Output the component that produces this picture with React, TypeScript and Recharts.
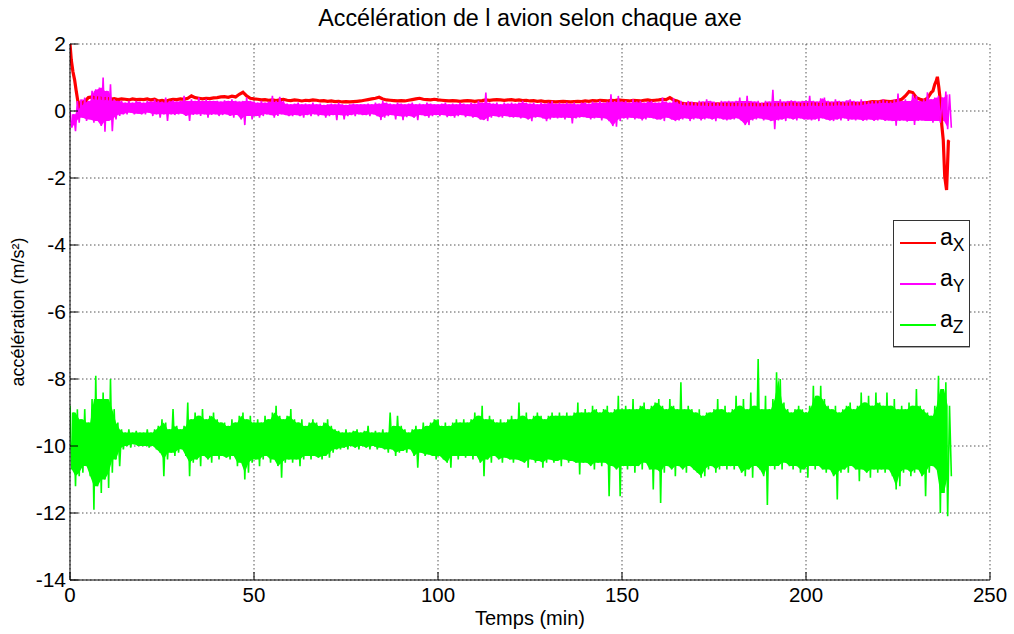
import { ComposedChart, Line, Area, XAxis, YAxis, CartesianGrid } from 'recharts';

const X_TICKS = [0, 50, 100, 150, 200, 250];
const Y_TICKS = [-14, -12, -10, -8, -6, -4, -2, 0, 2];

// a_X : start transient, one value per minute (t = 3..233), landing transient
const AX_HEAD_T = [0, 0.35, 0.8, 1.25, 1.65, 2.0, 2.4];
const AX_HEAD = [2.0, 1.52, 1.17, 0.93, 0.63, 0.38, 0.13];
const AX_BODY = [
  0.2, 0.28, 0.4, 0.42, 0.38, 0.4, 0.36, 0.38, 0.35, 0.37, 0.34, 0.36, 0.35, 0.33, 0.36, 0.34, 0.35,
  0.34, 0.36, 0.33, 0.35, 0.3, 0.32, 0.29, 0.33, 0.35, 0.34, 0.36, 0.35, 0.38, 0.45, 0.4, 0.38, 0.36, 0.38, 0.37, 0.39,
  0.4, 0.42, 0.43, 0.41, 0.44, 0.42, 0.5, 0.56, 0.45, 0.38, 0.36, 0.35, 0.33, 0.34, 0.32, 0.33, 0.31, 0.33, 0.35, 0.32,
  0.31, 0.33, 0.32, 0.3, 0.32, 0.31, 0.33, 0.32, 0.3, 0.31, 0.29, 0.3, 0.28, 0.29, 0.27, 0.28, 0.27, 0.28, 0.29, 0.3,
  0.32, 0.34, 0.36, 0.38, 0.41, 0.36, 0.33, 0.32, 0.31, 0.3, 0.31, 0.3, 0.32, 0.34, 0.36, 0.38, 0.35, 0.34, 0.33, 0.35,
  0.33, 0.32, 0.31, 0.3, 0.31, 0.3, 0.29, 0.3, 0.31, 0.3, 0.29, 0.3, 0.31, 0.33, 0.32, 0.33, 0.34, 0.33, 0.32, 0.33,
  0.34, 0.32, 0.33, 0.31, 0.32, 0.3, 0.31, 0.29, 0.3, 0.28, 0.29, 0.28, 0.27, 0.28, 0.29, 0.28, 0.27, 0.28, 0.29, 0.28,
  0.3, 0.29, 0.31, 0.3, 0.32, 0.31, 0.3, 0.32, 0.31, 0.33, 0.32, 0.31, 0.3, 0.32, 0.31, 0.3, 0.32, 0.33, 0.31, 0.32,
  0.33, 0.35, 0.34, 0.4, 0.33, 0.3, 0.24, 0.22, 0.21, 0.22, 0.21, 0.2, 0.21, 0.2, 0.19, 0.2, 0.21, 0.2, 0.19, 0.2,
  0.19, 0.2, 0.19, 0.18, 0.19, 0.2, 0.19, 0.18, 0.19, 0.2, 0.19, 0.18, 0.19, 0.2, 0.19, 0.2, 0.21, 0.2, 0.19, 0.2,
  0.19, 0.2, 0.21, 0.2, 0.19, 0.2, 0.21, 0.2, 0.21, 0.22, 0.21, 0.2, 0.21, 0.22, 0.21, 0.22, 0.24, 0.26, 0.28, 0.27,
  0.28, 0.3, 0.29, 0.28, 0.3, 0.32, 0.35, 0.45, 0.58, 0.55, 0.4, 0.35, 0.32, 0.38,
];
const AX_TAIL_T = [234, 234.5, 235, 235.4, 235.7, 236.1, 236.5, 236.9, 237.3, 237.7, 238.2, 238.5, 238.7, 238.9];
const AX_TAIL = [0.55, 0.6, 0.8, 0.9, 1.02, 0.7, 0.3, -0.42, -0.87, -1.96, -2.36, -1.5, -0.9, -0.87];

// a_Y : upper / lower extent of the noise band, one pair per minute (t = 0..239)
const AY_HI = [
  0.0, -0.1, 0.3, 0.35, 0.4, 0.3, 0.6, 0.65, 0.7, 1.0, 0.6, 0.8, 0.35, 0.3, 0.3, 0.25, 0.3, 0.25, 0.3, 0.28,
  0.25, 0.3, 0.28, 0.35, 0.3, 0.28, 0.4, 0.3, 0.32, 0.28, 0.3, 0.45, 0.3, 0.35, 0.3, 0.4, 0.3, 0.35, 0.3, 0.3,
  0.3, 0.28, 0.32, 0.3, 0.35, 0.3, 0.28, 0.3, 0.4, 0.3, 0.28, 0.25, 0.3, 0.25, 0.28, 0.45, 0.3, 0.42, 0.3, 0.22,
  0.2, 0.22, 0.25, 0.2, 0.22, 0.2, 0.25, 0.2, 0.22, 0.18, 0.2, 0.22, 0.2, 0.25, 0.2, 0.18, 0.2, 0.22, 0.2, 0.2,
  0.2, 0.22, 0.2, 0.25, 0.22, 0.3, 0.25, 0.22, 0.2, 0.25, 0.22, 0.2, 0.22, 0.25, 0.2, 0.22, 0.2, 0.25, 0.22, 0.2,
  0.2, 0.22, 0.25, 0.2, 0.22, 0.2, 0.25, 0.22, 0.2, 0.25, 0.22, 0.3, 0.25, 0.55, 0.25, 0.22, 0.25, 0.2, 0.25, 0.22,
  0.25, 0.22, 0.25, 0.3, 0.25, 0.22, 0.25, 0.2, 0.25, 0.22, 0.25, 0.3, 0.22, 0.25, 0.22, 0.25, 0.22, 0.25, 0.2, 0.25,
  0.25, 0.22, 0.28, 0.25, 0.3, 0.25, 0.28, 0.5, 0.3, 0.45, 0.28, 0.3, 0.25, 0.35, 0.28, 0.3, 0.25, 0.28, 0.3, 0.25,
  0.25, 0.4, 0.28, 0.25, 0.38, 0.28, 0.3, 0.25, 0.3, 0.28, 0.25, 0.3, 0.28, 0.35, 0.3, 0.28, 0.25, 0.3, 0.28, 0.3,
  0.28, 0.3, 0.4, 0.3, 0.45, 0.3, 0.28, 0.3, 0.25, 0.3, 0.28, 0.63, 0.3, 0.35, 0.28, 0.3, 0.32, 0.3, 0.28, 0.3,
  0.3, 0.45, 0.3, 0.28, 0.38, 0.4, 0.3, 0.28, 0.35, 0.3, 0.28, 0.32, 0.35, 0.3, 0.28, 0.35, 0.3, 0.28, 0.3, 0.3,
  0.3, 0.35, 0.3, 0.28, 0.35, 0.52, 0.3, 0.35, 0.3, 0.5, 0.45, 0.3, 0.35, 0.56, 0.35, 0.4, 0.45, 0.4, 0.58, 0.5,
];
const AY_LO = [
  -0.5, -0.6, -0.35, -0.2, -0.3, -0.25, -0.35, -0.3, -0.45, -0.62, -0.3, -0.6, -0.25, -0.15, -0.1, -0.1, -0.05, -0.1, -0.08, -0.1,
  -0.1, -0.05, -0.15, -0.1, -0.2, -0.1, -0.3, -0.1, -0.12, -0.1, -0.08, -0.15, -0.3, -0.12, -0.1, -0.15, -0.1, -0.2, -0.12, -0.1,
  -0.15, -0.12, -0.1, -0.15, -0.2, -0.12, -0.25, -0.42, -0.15, -0.25, -0.15, -0.2, -0.15, -0.1, -0.12, -0.2, -0.15, -0.1, -0.12, -0.15,
  -0.15, -0.12, -0.15, -0.2, -0.12, -0.15, -0.1, -0.15, -0.12, -0.2, -0.15, -0.12, -0.27, -0.12, -0.25, -0.15, -0.12, -0.15, -0.1, -0.12,
  -0.12, -0.15, -0.1, -0.15, -0.27, -0.2, -0.15, -0.12, -0.25, -0.15, -0.27, -0.18, -0.15, -0.2, -0.27, -0.12, -0.15, -0.2, -0.15, -0.12,
  -0.15, -0.12, -0.18, -0.15, -0.2, -0.15, -0.12, -0.18, -0.15, -0.2, -0.18, -0.25, -0.27, -0.3, -0.2, -0.15, -0.18, -0.2, -0.15, -0.18,
  -0.2, -0.18, -0.22, -0.2, -0.25, -0.3, -0.2, -0.18, -0.22, -0.3, -0.25, -0.2, -0.22, -0.2, -0.25, -0.2, -0.37, -0.22, -0.2, -0.18,
  -0.2, -0.25, -0.22, -0.2, -0.28, -0.22, -0.3, -0.45, -0.47, -0.3, -0.22, -0.25, -0.2, -0.25, -0.22, -0.28, -0.25, -0.2, -0.22, -0.25,
  -0.25, -0.3, -0.2, -0.25, -0.3, -0.28, -0.25, -0.22, -0.3, -0.25, -0.22, -0.28, -0.25, -0.22, -0.25, -0.3, -0.22, -0.25, -0.28, -0.25,
  -0.25, -0.22, -0.3, -0.42, -0.42, -0.28, -0.25, -0.22, -0.28, -0.25, -0.3, -0.54, -0.28, -0.25, -0.3, -0.22, -0.25, -0.28, -0.22, -0.25,
  -0.25, -0.28, -0.25, -0.3, -0.22, -0.25, -0.28, -0.3, -0.25, -0.28, -0.22, -0.3, -0.25, -0.28, -0.25, -0.3, -0.28, -0.25, -0.3, -0.28,
  -0.25, -0.3, -0.28, -0.3, -0.44, -0.3, -0.28, -0.32, -0.3, -0.42, -0.3, -0.28, -0.3, -0.3, -0.35, -0.3, -0.35, -0.3, -0.54, -0.5,
];

// a_Z : upper / lower extent of the noise band, one pair per minute (t = 0..239)
const AZ_HI = [
  -8.8, -9.0, -8.9, -9.2, -8.9, -9.3, -8.6, -7.9, -8.6, -8.4, -8.6, -8.0, -8.9, -9.3, -9.5, -9.6, -9.5, -9.6, -9.55, -9.6,
  -9.6, -9.5, -9.6, -9.5, -9.4, -9.2, -9.3, -9.5, -8.9, -9.4, -9.5, -9.4, -8.7, -9.2, -9.0, -9.1, -8.9, -9.2, -9.1, -9.0,
  -9.2, -9.3, -9.3, -9.4, -9.2, -9.3, -9.1, -9.0, -9.2, -9.1, -9.3, -9.2, -9.3, -9.1, -9.2, -9.0, -8.8, -9.1, -9.2, -9.1,
  -8.9, -9.2, -9.3, -9.2, -9.4, -9.3, -9.2, -9.3, -9.4, -9.3, -9.2, -9.4, -9.5, -9.55, -9.6, -9.5, -9.6, -9.55, -9.5, -9.6,
  -9.55, -9.4, -9.6, -9.55, -9.6, -9.5, -9.6, -9.0, -9.4, -9.1, -9.4, -9.5, -9.6, -9.5, -9.4, -9.5, -9.3, -9.4, -9.3, -9.2,
  -9.2, -9.4, -9.3, -9.4, -9.3, -9.2, -9.3, -9.2, -9.3, -9.2, -9.0, -9.1, -8.8, -9.2, -9.1, -9.2, -9.3, -9.2, -9.3, -9.2,
  -9.1, -9.2, -8.7, -9.1, -9.0, -9.2, -9.1, -9.0, -9.1, -9.2, -9.1, -9.0, -9.1, -9.0, -9.1, -9.0, -9.1, -9.0, -8.7, -9.0,
  -8.9, -9.0, -8.8, -8.9, -9.0, -8.9, -8.8, -9.0, -8.9, -8.5, -8.9, -8.8, -8.9, -8.6, -8.9, -8.8, -8.7, -8.9, -8.8, -8.7,
  -8.6, -8.8, -8.9, -8.6, -8.8, -8.9, -8.1, -8.9, -8.8, -8.9, -9.0, -8.9, -9.1, -9.0, -9.0, -8.9, -8.6, -8.9, -8.8, -9.0,
  -8.9, -8.5, -8.8, -8.6, -8.9, -8.4, -8.8, -7.4, -8.9, -8.5, -8.9, -8.6, -7.8, -8.0, -8.7, -8.9, -9.0, -8.9, -8.8, -8.9,
  -9.0, -8.8, -8.2, -8.5, -8.2, -8.6, -8.8, -8.9, -8.8, -9.0, -8.9, -8.8, -8.7, -8.9, -8.8, -8.4, -8.7, -8.5, -8.8, -8.4,
  -8.7, -8.8, -8.4, -8.8, -8.6, -8.9, -8.8, -8.9, -8.7, -8.8, -8.3, -8.8, -8.9, -9.0, -9.1, -8.8, -7.9, -8.3, -8.1, -8.8,
];
const AZ_LO = [
  -10.7, -11.2, -10.9, -10.8, -10.6, -10.9, -11.9, -11.2, -11.4, -11.0, -11.25, -10.8, -10.4, -10.6, -10.1, -10.0, -10.05, -9.95, -10.0, -10.0,
  -10.0, -10.05, -10.0, -10.1, -10.2, -10.9, -10.4, -10.2, -10.3, -10.2, -10.1, -10.3, -10.9, -10.5, -10.4, -10.6, -10.3, -10.4, -10.5, -10.3,
  -10.4, -10.3, -10.35, -10.4, -10.3, -10.6, -10.5, -11.0, -10.8, -10.5, -10.4, -10.6, -10.4, -10.3, -10.5, -10.4, -10.6, -10.95, -10.5, -10.4,
  -10.5, -10.4, -10.6, -10.4, -10.3, -10.4, -10.3, -10.35, -10.4, -10.3, -10.35, -10.2, -10.1, -10.1, -10.05, -10.1, -10.0, -10.05, -10.1, -10.0,
  -10.05, -10.1, -10.0, -10.1, -10.05, -10.1, -10.2, -10.1, -10.3, -10.2, -10.15, -10.2, -10.1, -10.3, -10.65, -10.2, -10.3, -10.25, -10.3, -10.4,
  -10.3, -10.4, -10.5, -10.65, -10.3, -10.4, -10.3, -10.35, -10.3, -10.4, -10.3, -10.5, -10.9, -10.4, -10.5, -10.3, -10.4, -10.5, -10.35, -10.4,
  -10.5, -10.4, -10.45, -10.5, -10.65, -10.4, -10.5, -10.45, -10.65, -10.5, -10.4, -10.5, -10.45, -10.6, -10.4, -10.5, -10.45, -10.5, -10.85, -10.5,
  -10.5, -10.6, -10.7, -10.5, -10.6, -10.5, -11.5, -10.6, -10.7, -11.5, -10.6, -10.7, -10.6, -10.8, -10.6, -10.7, -10.5, -10.7, -11.3, -10.7,
  -11.7, -10.8, -10.6, -10.7, -10.9, -10.6, -10.7, -10.8, -10.6, -10.7, -10.8, -10.95, -10.9, -10.7, -10.6, -10.8, -10.7, -10.6, -10.7, -10.6,
  -10.7, -10.6, -10.8, -10.9, -10.7, -10.95, -10.6, -10.7, -10.9, -11.76, -10.6, -10.7, -10.6, -10.7, -10.5, -10.6, -10.7, -10.6, -10.8, -10.7,
  -10.95, -10.6, -10.7, -10.6, -10.7, -10.8, -10.7, -10.9, -11.6, -10.8, -10.7, -10.8, -10.6, -10.7, -11.05, -10.7, -10.8, -10.95, -10.7, -10.8,
  -10.7, -10.8, -10.7, -10.9, -11.3, -11.2, -10.8, -10.7, -10.9, -10.8, -10.7, -10.9, -11.5, -10.8, -10.6, -10.7, -12.0, -11.4, -12.1, -10.9,
];

const SERIES = [
  { key: 'ax', sub: 'X', color: '#ff0000' },
  { key: 'ay', sub: 'Y', color: '#ff00ff' },
  { key: 'az', sub: 'Z', color: '#00ff00' },
];

const FONT = '"Liberation Sans", Arial, Helvetica, sans-serif';

type Pt = { t: number; v: number };
type Rg = { t: number; r: [number, number] };

// upper and lower extent of each minute, drawn one after the other
function zigzag(hi: number[], lo: number[]): Pt[] {
  const pts: Pt[] = [];
  hi.forEach((h, i) => {
    pts.push({ t: i, v: h });
    pts.push({ t: i + 0.5, v: lo[i] });
  });
  return pts;
}

// solid core of the band: what two neighbouring minutes share, so lone spikes stay thin
function core(hi: number[], lo: number[]): Rg[] {
  const out: Rg[] = [];
  for (let i = 0; i < hi.length - 1; i++) {
    out.push({
      t: i + 0.5,
      r: [Math.max(lo[i], lo[i + 1]), Math.min(hi[i], hi[i + 1])],
    });
  }
  return out;
}

const axData: Pt[] = [
  ...AX_HEAD_T.map((t, i) => ({ t, v: AX_HEAD[i] })),
  ...AX_BODY.map((v, i) => ({ t: i + 3, v })),
  ...AX_TAIL_T.map((t, i) => ({ t, v: AX_TAIL[i] })),
];

const ayLine = zigzag(AY_HI, AY_LO);
const ayBand = core(AY_HI, AY_LO);
const azLine = zigzag(AZ_HI, AZ_LO);
const azBand = core(AZ_HI, AZ_LO);

function YLabel(props: any) {
  const vb = props.viewBox || {};
  const cy = (vb.y ?? 44) + (vb.height ?? 536) / 2;
  const cx = 18;
  return (
    <text
      x={cx}
      y={cy}
      transform={`rotate(-90, ${cx}, ${cy})`}
      textAnchor="middle"
      dominantBaseline="central"
      fontFamily={FONT}
      fontSize={18}
      fill="#000"
    >
      accélération (m/s²)
    </text>
  );
}

export default function App() {
  return (
    <div
      style={{
        position: 'absolute',
        left: 0,
        top: 0,
        width: 1014,
        height: 634,
        background: '#fff',
        fontFamily: FONT,
      }}
    >
      <div
        style={{
          position: 'absolute',
          left: 0,
          top: 7,
          width: 1060,
          textAlign: 'center',
          fontSize: 23.3,
          lineHeight: '23px',
          color: '#000',
        }}
      >
        Accélération de l avion selon chaque axe
      </div>

      <ComposedChart width={1014} height={634} margin={{ top: 44, right: 24, bottom: 24, left: 0 }}>
        <CartesianGrid stroke="#555" strokeDasharray="1.5 2.5" />
        <XAxis
          type="number"
          dataKey="t"
          domain={[0, 250]}
          ticks={X_TICKS}
          height={30}
          allowDataOverflow
          stroke="#000"
          tickSize={-8}
          tickMargin={15}
          tick={{ fill: '#000', fontSize: 20.5, fontFamily: FONT }}
          label={{ value: 'Temps (min)', position: 'bottom', offset: 1, fill: '#000', fontSize: 20, fontFamily: FONT }}
        />
        <YAxis
          type="number"
          domain={[-14, 2]}
          ticks={Y_TICKS}
          width={70}
          allowDataOverflow
          stroke="#000"
          tickSize={-8}
          tickMargin={12}
          tick={{ fill: '#000', fontSize: 21, fontFamily: FONT }}
          label={<YLabel />}
        />
        <Line
          data={axData}
          dataKey="v"
          type="linear"
          stroke={SERIES[0].color}
          strokeWidth={3.2}
          dot={false}
          activeDot={false}
          isAnimationActive={false}
        />
        <Area
          data={ayBand}
          dataKey="r"
          type="linear"
          stroke="none"
          fill={SERIES[1].color}
          fillOpacity={1}
          dot={false}
          activeDot={false}
          isAnimationActive={false}
        />
        <Line
          data={ayLine}
          dataKey="v"
          type="linear"
          stroke={SERIES[1].color}
          strokeWidth={1.6}
          dot={false}
          activeDot={false}
          isAnimationActive={false}
        />
        <Area
          data={azBand}
          dataKey="r"
          type="linear"
          stroke="none"
          fill={SERIES[2].color}
          fillOpacity={1}
          dot={false}
          activeDot={false}
          isAnimationActive={false}
        />
        <Line
          data={azLine}
          dataKey="v"
          type="linear"
          stroke={SERIES[2].color}
          strokeWidth={1.6}
          dot={false}
          activeDot={false}
          isAnimationActive={false}
        />
      </ComposedChart>

      {/* Legend */}
      <div
        style={{
          position: 'absolute',
          left: 893,
          top: 220,
          width: 77,
          height: 127,
          boxSizing: 'border-box',
          border: '1px solid #333',
          boxShadow: '0 1px 0 #aaa',
          background: '#fff',
        }}
      >
        {SERIES.map((s, i) => (
          <div
            key={s.key}
            style={{ position: 'absolute', left: 0, top: 1 + i * 41, width: 75, height: 41 }}
          >
            <span
              style={{
                position: 'absolute',
                left: 6,
                top: 20,
                width: 36,
                height: 2,
                background: s.color,
              }}
            />
            <span
              style={{
                position: 'absolute',
                left: 46,
                top: 4,
                fontSize: 23,
                lineHeight: '23px',
                color: '#000',
                whiteSpace: 'nowrap',
              }}
            >
              a<sub style={{ fontSize: 17.5, verticalAlign: -6 }}>{s.sub}</sub>
            </span>
          </div>
        ))}
      </div>
    </div>
  );
}
